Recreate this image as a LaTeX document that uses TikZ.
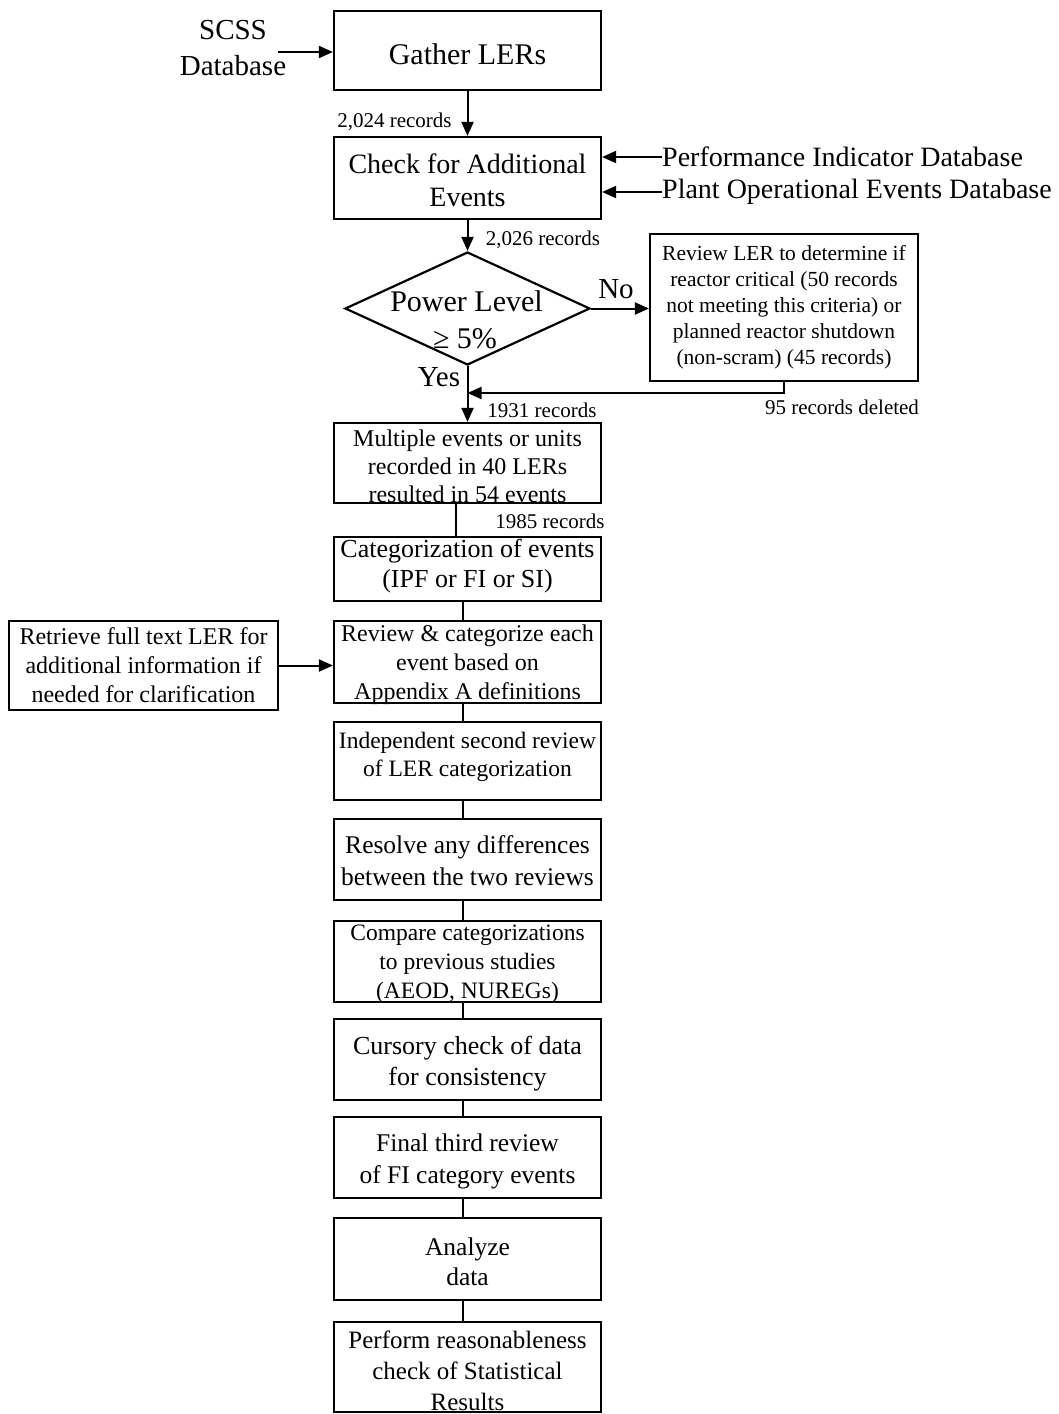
\documentclass[tikz,border=0pt]{standalone}
\usepackage{fontspec}
\setmainfont{Liberation Serif}
\usetikzlibrary{arrows.meta,shapes.geometric}
\begin{document}
\begin{tikzpicture}[x=1pt,y=-1pt,
  box/.style={draw,line width=2.2pt,inner sep=0pt},
  mbox/.style={box,minimum width=267pt},
  txt/.style={inner sep=0pt,align=center},
  arr/.style={line width=2pt,-{Triangle[length=14pt,width=12pt]}},
  ln/.style={line width=2pt},
  fsz/.style 2 args={font=\fontsize{#1}{#2}\selectfont}]
\useasboundingbox (0,0) rectangle (1058,1414);

% main boxes
\node[mbox,minimum height=79pt] (gather) at (467.5,50.5) {};
\node[mbox,minimum height=82pt] (check) at (467.5,178) {};
\node[box,shape=diamond,minimum width=245pt,minimum height=113pt] (dia) at (467.5,308.5) {};
\node[box,minimum width=268pt,minimum height=147pt] (rev) at (784,307.5) {};
\node[mbox,minimum height=80pt] (mult) at (467.5,463) {};
\node[mbox,minimum height=64pt] (categ) at (467.5,569) {};
\node[mbox,minimum height=82pt] (revcat) at (467.5,662) {};
\node[box,minimum width=269pt,minimum height=89pt] (retr) at (143.5,665.5) {};
\node[mbox,minimum height=78pt] (indep) at (467.5,761) {};
\node[mbox,minimum height=81pt] (resolve) at (467.5,859.5) {};
\node[mbox,minimum height=81pt] (compare) at (467.5,961.5) {};
\node[mbox,minimum height=81pt] (cursory) at (467.5,1059.5) {};
\node[mbox,minimum height=81pt] (final) at (467.5,1157.5) {};
\node[mbox,minimum height=82pt] (analyze) at (467.5,1259) {};
\node[mbox,minimum height=90pt] (perform) at (467.5,1367) {};

% box texts
\node[txt,fsz={30}{36}] (gatherT) at (467.5,54) {Gather LERs};
\node[txt,fsz={28}{33}] (checkT) at (467.5,180) {Check for Additional\\Events};
\node[txt,fsz={30}{36}] (diaT1) at (466.5,301) {Power Level};
\node[txt,fsz={30}{36}] (diaT2) at (465,339) {≥ 5\%};
\node[txt,fsz={21.5}{26}] (revT) at (784,307) {Review LER to determine if\\reactor critical (50 records\\not meeting this criteria) or\\planned reactor shutdown\\(non-scram) (45 records)};
\node[txt,fsz={24}{28}] (multT) at (467.5,466) {Multiple events or units\\recorded in 40 LERs\\resulted in 54 events};
\node[txt,fsz={26}{30}] (categT) at (467.5,566) {Categorization of events\\(IPF or FI or SI)};
\node[txt,fsz={24}{29}] (revcatT) at (467.5,665) {Review \& categorize each\\event based on\\Appendix A definitions};
\node[txt,fsz={24}{29}] (retrT) at (143.5,665) {Retrieve full text LER for\\additional information if\\needed for clarification};
\node[txt,fsz={23.5}{28}] (indepT) at (467.5,757) {Independent second review\\of LER categorization};
\node[txt,fsz={25.5}{32}] (resolveT) at (467.5,861) {Resolve any differences\\between the two reviews};
\node[txt,fsz={23.5}{29}] (compareT) at (467.5,964) {Compare categorizations\\to previous studies\\(AEOD, NUREGs)};
\node[txt,fsz={26}{31}] (cursoryT) at (467.5,1064) {Cursory check of data\\for consistency};
\node[txt,fsz={25.5}{32}] (finalT) at (467.5,1161) {Final third review\\of FI category events};
\node[txt,fsz={25.5}{30}] (analyzeT) at (467.5,1262) {Analyze\\data};
\node[txt,fsz={25}{31}] (performT) at (467.5,1371) {Perform reasonableness\\check of Statistical\\Results};

% outside labels
\node[txt,fsz={29}{36}] (scss) at (233,48) {SCSS\\Database};
\node[txt,fsz={28}{33},anchor=west] (pi) at (662,157) {Performance Indicator Database};
\node[txt,fsz={28}{33},anchor=west] (poe) at (662,192) {Plant Operational Events Database};
\node[txt,fsz={21}{25}] (l2024) at (394.5,122) {2,024 records};
\node[txt,fsz={21}{25}] (l2026) at (543,240) {2,026 records};
\node[txt,fsz={21}{25}] (l1931) at (542,410) {1931 records};
\node[txt,fsz={21}{25}] (l1985) at (550,521) {1985 records};
\node[txt,fsz={21}{25}] (l95) at (842,407) {95 records deleted};
\node[txt,fsz={29}{36}] (lno) at (616,289) {No};
\node[txt,fsz={29}{36}] (lyes) at (439,377) {Yes};

% helper coordinates
\coordinate (scssA) at (278,52);
\coordinate (join) at (467.5,393);
\coordinate (lx) at (456,0);
\coordinate (cx) at (463,0);

% connectors
\draw[arr] (scssA) -- (scssA -| gather.west);
\draw[arr] (gather.south) -- (check.north);
\draw[arr] (pi.west) -- (pi.west -| check.east);
\draw[arr] (poe.west) -- (poe.west -| check.east);
\draw[arr] (check.south) -- (dia.north);
\draw[arr] (dia.east) -- (dia.east -| rev.west);
\draw[arr] (rev.south) |- (join);
\draw[arr] (dia.south) -- (mult.north);
\draw[ln] (mult.south -| lx) -- (categ.north -| lx);
\draw[ln] (categ.south -| cx) -- (revcat.north -| cx);
\draw[arr] (retr.east) -- (retr.east -| revcat.west);
\draw[ln] (revcat.south -| cx) -- (indep.north -| cx);
\draw[ln] (indep.south -| cx) -- (resolve.north -| cx);
\draw[ln] (resolve.south -| cx) -- (compare.north -| cx);
\draw[ln] (compare.south -| cx) -- (cursory.north -| cx);
\draw[ln] (cursory.south -| cx) -- (final.north -| cx);
\draw[ln] (final.south -| cx) -- (analyze.north -| cx);
\draw[ln] (analyze.south -| cx) -- (perform.north -| cx);
\end{tikzpicture}
\end{document}
